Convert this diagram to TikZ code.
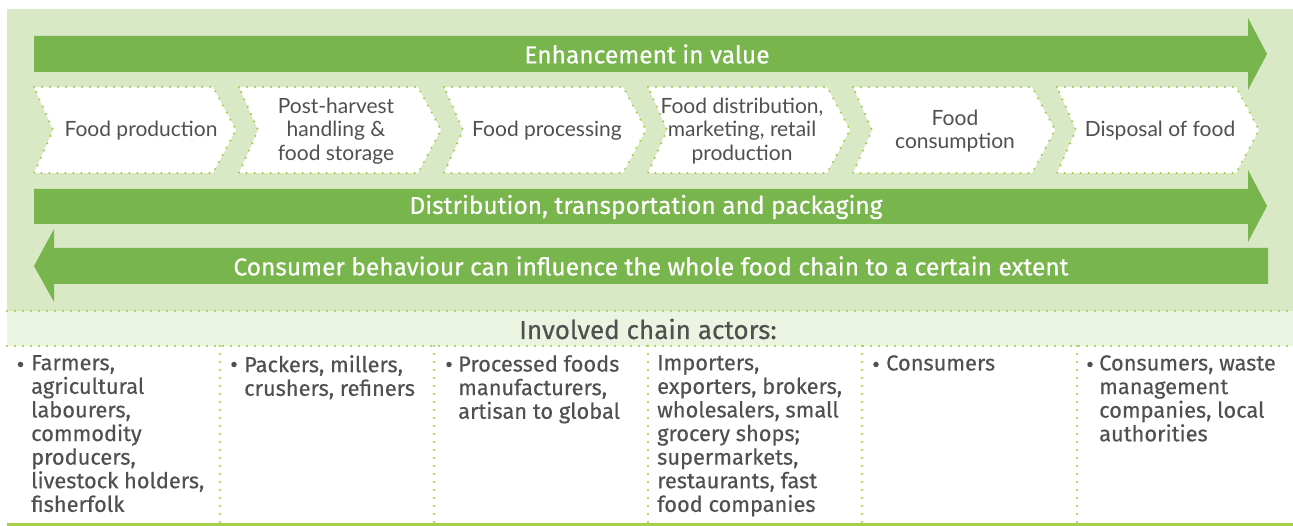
\documentclass[tikz,border=0pt]{standalone}
\usepackage{fontspec}
\setmainfont{Fira Sans}[FakeBold=0.4]
\newfontfamily\chevfont{Lato}
\definecolor{panel}{HTML}{D9E8C5}
\definecolor{band}{HTML}{EBF4E1}
\definecolor{arrowgreen}{HTML}{79B54D}
\definecolor{lime}{HTML}{9DCB3C}
\definecolor{limeline}{HTML}{A6CF4B}
\definecolor{txt}{HTML}{505050}
\tikzset{
  dotline/.style={draw=lime, line width=2.2pt, line cap=round, dash pattern=on 0pt off 8pt},
  bigarrow/.style={fill=arrowgreen},
  arrowtext/.style={text=white, font=\fontsize{24.5}{28}\selectfont, inner sep=0pt},
  chevshape/.style={fill=white, dotline},
  chevtext/.style={text=txt, font=\chevfont\fontsize{21}{23.5}\selectfont, align=center, inner sep=0pt},
  actortext/.style={text=txt, font=\fontsize{21.8}{23.6}\selectfont, align=left, inner sep=0pt, anchor=north west},
  bulletnode/.style={circle, fill=txt, inner sep=0pt, minimum size=5.5pt},
}
\begin{document}
\begin{tikzpicture}[x=1pt,y=-1pt]
\useasboundingbox (0,0) rectangle (1293,526);
% panels
\fill[panel] (7,9) rectangle (1293,311);
\fill[band] (7,311) rectangle (1293,346);
\draw[dotline] (7,311) -- (1293,311);
\draw[dotline] (7,346) -- (1293,346);
\foreach \x in {220,434,648,862,1077} \draw[dotline] (\x,346) -- (\x,524);
\draw[limeline, line width=2.2pt] (7,524.5) -- (1293,524.5);
% top arrow
\fill[bigarrow] (34,36) -- (1248,36) -- (1248,18) -- (1267,54) -- (1248,90) -- (1248,72) -- (34,72) -- cycle;
\node[arrowtext] (enh) at (647,54) {Enhancement in value};
% distribution arrow
\fill[bigarrow] (34,189) -- (1248,189) -- (1248,170) -- (1267,206) -- (1248,242) -- (1248,224) -- (34,224) -- cycle;
\node[arrowtext] (dist) at (646,207) {Distribution, transportation and packaging};
% consumer arrow
\fill[bigarrow] (1268,248) -- (54,248) -- (54,229) -- (34,266) -- (54,302) -- (54,284) -- (1268,284) -- cycle;
\node[arrowtext] (cons) at (651,266) {Consumer behaviour can influence the whole food chain to a certain extent};
% chevrons
\foreach \x in {34,239,444,648,853,1057}
  \path[chevshape] (\x,87) -- ++(179,0) -- ++(23,43) -- ++(-23,43) -- ++(-179,0) -- ++(19,-43) -- cycle;
\node[chevtext] (c1) at (141,131) {Food production};
\node[chevtext] (c2) at (336,131) {Post-harvest\\handling \&\\food storage};
\node[chevtext] (c3) at (547,131) {Food processing};
\node[chevtext] (c4) at (742,131) {Food distribution,\\marketing, retail\\production};
\node[chevtext] (c5) at (955,131) {Food\\consumption};
\node[chevtext] (c6) at (1160,131) {Disposal of food};
% involved
\node[text=txt, font=\fontsize{26}{28}\selectfont, inner sep=0pt] (inv) at (648,329) {Involved chain actors:};
% columns
\node[bulletnode] (b1) at (20.5,364.5) {};
\node[actortext] (a1) at (31,355) {Farmers,\\agricultural\\labourers,\\commodity\\producers,\\livestock holders,\\fisherfolk};
\node[bulletnode] (b2) at (234,364.5) {};
\node[actortext] (a2) at (244,355) {Packers, millers,\\crushers, refiners};
\node[bulletnode] (b3) at (449,364.5) {};
\node[actortext] (a3) at (458,355) {Processed foods\\manufacturers,\\artisan to global};
\node[actortext] (a4) at (657,355) {Importers,\\exporters, brokers,\\wholesalers, small\\grocery shops;\\supermarkets,\\restaurants, fast\\food companies};
\node[bulletnode] (b5) at (876,364.5) {};
\node[actortext] (a5) at (886,355) {Consumers};
\node[bulletnode] (b6) at (1090,364.5) {};
\node[actortext] (a6) at (1099,355) {Consumers, waste\\management\\companies, local\\authorities};
\end{tikzpicture}
\end{document}
